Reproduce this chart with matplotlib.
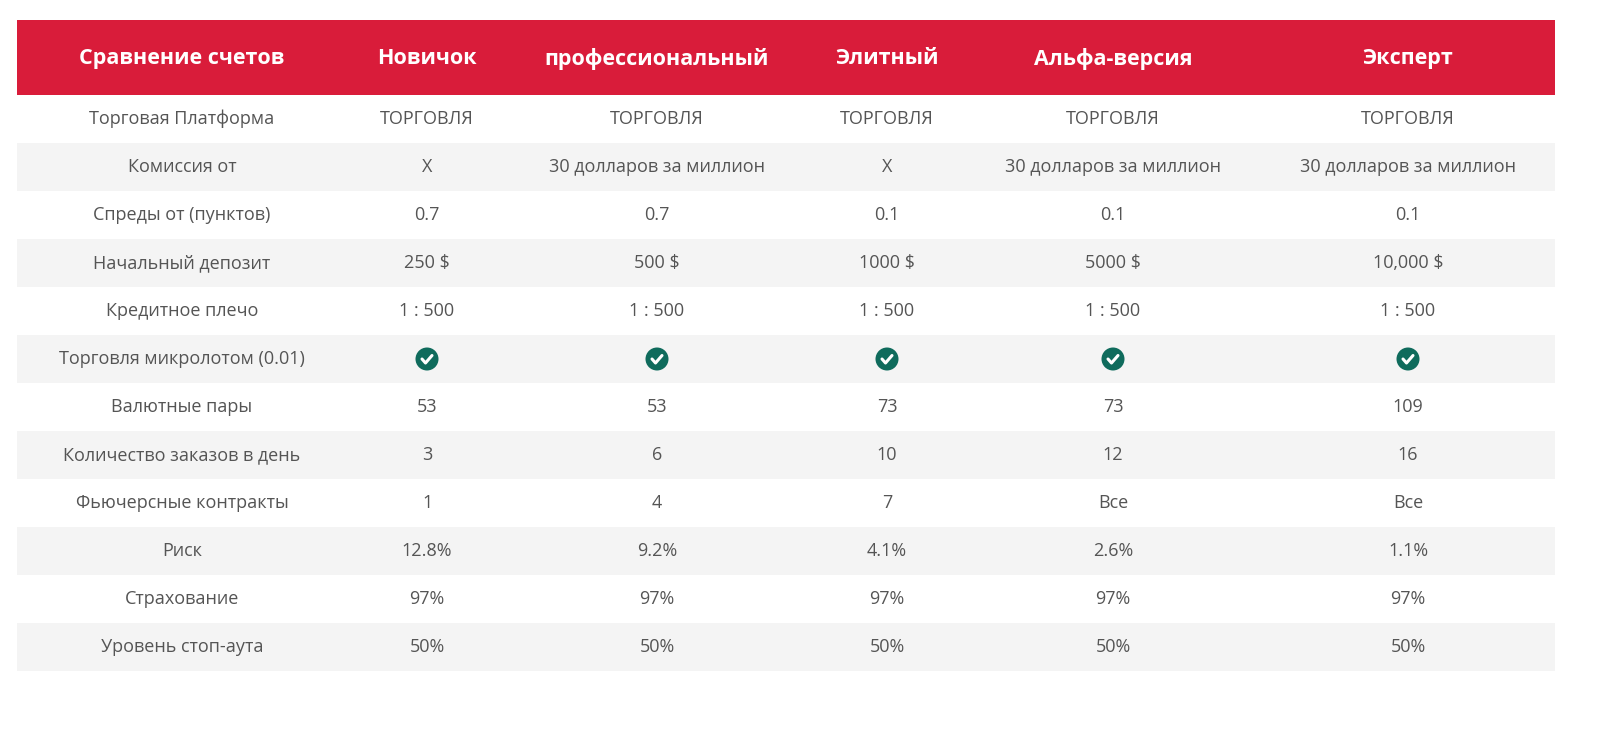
import matplotlib
matplotlib.use("Agg")
import matplotlib.pyplot as plt
from matplotlib.patches import Rectangle, Circle

headers = ["Сравнение счетов", "Новичок", "профессиональный", "Элитный", "Альфа-версия", "Эксперт"]
row_labels = ["Торговая Платформа", "Комиссия от", "Спреды от (пунктов)", "Начальный депозит",
              "Кредитное плечо", "Торговля микролотом (0.01)", "Валютные пары",
              "Количество заказов в день", "Фьючерсные контракты", "Риск", "Страхование",
              "Уровень стоп-аута"]
CHECK = "✓"
novice = ["ТОРГОВЛЯ", "X", "0.7", "250 $", "1 : 500", CHECK, "53", "3", "1", "12.8%", "97%", "50%"]
pro = ["ТОРГОВЛЯ", "30 долларов за миллион", "0.7", "500 $", "1 : 500", CHECK, "53", "6", "4", "9.2%", "97%", "50%"]
elite = ["ТОРГОВЛЯ", "X", "0.1", "1000 $", "1 : 500", CHECK, "73", "10", "7", "4.1%", "97%", "50%"]
alpha = ["ТОРГОВЛЯ", "30 долларов за миллион", "0.1", "5000 $", "1 : 500", CHECK, "73", "12", "Все", "2.6%", "97%", "50%"]
expert = ["ТОРГОВЛЯ", "30 долларов за миллион", "0.1", "10,000 $", "1 : 500", CHECK, "109", "16", "Все", "1.1%", "97%", "50%"]
columns = [row_labels, novice, pro, elite, alpha, expert]

# layout (pixels)
col_edges = [17, 347, 507, 807, 967, 1260, 1555]
col_centers = [182, 427, 657, 887, 1113, 1408]
header_top, header_bot = 20, 95
row_h = 48.0

fig = plt.figure(figsize=(16, 7.52), dpi=100)
ax = fig.add_axes([0, 0, 1, 1])
ax.set_xlim(0, 1600); ax.set_ylim(752, 0); ax.axis("off")

font = "Open Sans"
ax.add_patch(Rectangle((col_edges[0], header_top), col_edges[-1] - col_edges[0],
                       header_bot - header_top, color="#D91C3A", lw=0))
for c, h in zip(col_centers, headers):
    ax.text(c, (header_top + header_bot) / 2 + 1, h, ha="center", va="center",
            color="white", fontsize=15.5, fontweight="bold", family=font)

for i in range(len(row_labels)):
    y0 = header_bot + i * row_h
    if i % 2 == 1:
        ax.add_patch(Rectangle((col_edges[0], y0), col_edges[-1] - col_edges[0], row_h,
                               color="#F4F4F4", lw=0))
    yc = y0 + row_h / 2
    for c, col in zip(col_centers, columns):
        v = col[i]
        if v == CHECK:
            ax.add_patch(Circle((c, yc), 11.5, color="#0F6B5C", lw=0))
            ax.plot([c - 5, c - 1.5, c + 5], [yc, yc + 4, yc - 3.5], color="white",
                    lw=2.2, solid_capstyle="round", solid_joinstyle="round")
        else:
            ax.text(c, yc, v, ha="center", va="center", color="#555555",
                    fontsize=13, family=font)

fig.savefig("out.png", dpi=100, facecolor="white")
